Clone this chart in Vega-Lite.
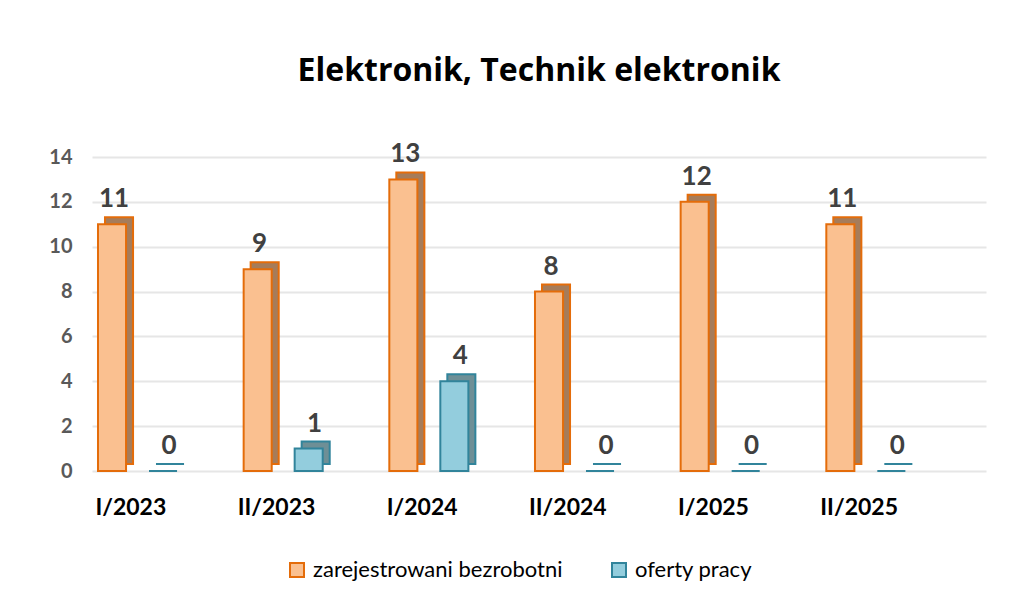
{
  "$schema": "https://vega.github.io/schema/vega-lite/v6.json",
  "autosize": {"type": "none"},
  "width": 894,
  "height": 314,
  "padding": {"left": 92, "top": 157, "right": 32, "bottom": 126},
  "background": "white",
  "config": {
    "font": "Lato",
    "view": {"stroke": null}
  },
  "title": {
    "text": "Elektronik, Technik elektronik",
    "fontSize": 32,
    "fontWeight": "bold",
    "font": "Open Sans",
    "color": "#000000",
    "anchor": "middle",
    "frame": "group",
    "baseline": "alphabetic",
    "offset": 28
  },
  "data": {
    "values": [
      {"okres": "I/2023", "series": "zarejestrowani bezrobotni", "value": 11},
      {"okres": "I/2023", "series": "oferty pracy", "value": 0},
      {"okres": "II/2023", "series": "zarejestrowani bezrobotni", "value": 9},
      {"okres": "II/2023", "series": "oferty pracy", "value": 1},
      {"okres": "I/2024", "series": "zarejestrowani bezrobotni", "value": 13},
      {"okres": "I/2024", "series": "oferty pracy", "value": 4},
      {"okres": "II/2024", "series": "zarejestrowani bezrobotni", "value": 8},
      {"okres": "II/2024", "series": "oferty pracy", "value": 0},
      {"okres": "I/2025", "series": "zarejestrowani bezrobotni", "value": 12},
      {"okres": "I/2025", "series": "oferty pracy", "value": 0},
      {"okres": "II/2025", "series": "zarejestrowani bezrobotni", "value": 11},
      {"okres": "II/2025", "series": "oferty pracy", "value": 0}
    ]
  },
  "encoding": {
    "x": {
      "field": "okres",
      "type": "nominal",
      "sort": ["I/2023", "II/2023", "I/2024", "II/2024", "I/2025", "II/2025"],
      "scale": {"paddingInner": 0, "paddingOuter": 0.0687, "align": 0},
      "axis": {
        "title": null,
        "labelAngle": 0,
        "labelFontSize": 23,
        "labelFontWeight": "bold",
        "labelColor": "#000000",
        "labelFont": "Lato",
        "labelOffset": -34,
        "labelPadding": 25,
        "domain": false,
        "ticks": false
      }
    },
    "y": {
      "field": "value",
      "type": "quantitative",
      "scale": {"domain": [0, 14], "nice": false},
      "axis": {
        "title": null,
        "values": [0, 2, 4, 6, 8, 10, 12, 14],
        "labelFontSize": 20,
        "labelFontWeight": "bold",
        "labelColor": "#595959",
        "labelFont": "Lato",
        "labelPadding": 20,
        "domain": false,
        "ticks": false,
        "gridColor": "#E6E6E6",
        "gridWidth": 2
      }
    }
  },
  "layer": [
    {
      "mark": {"type": "bar", "yOffset": -7, "strokeWidth": 2},
      "encoding": {
        "xOffset": {
          "field": "series",
          "type": "nominal",
          "sort": ["zarejestrowani bezrobotni", "oferty pracy"],
          "scale": {"paddingInner": 0.45, "paddingOuter": 0.653, "align": 0.195}
        },
        "fill": {
          "condition": {"test": "datum.series === 'oferty pracy'", "value": "#6E8F96"},
          "value": "#A67C5A"
        },
        "stroke": {
          "condition": {"test": "datum.series === 'oferty pracy'", "value": "#31849B"},
          "value": "#E46C0A"
        }
      }
    },
    {
      "mark": {"type": "bar", "strokeWidth": 2},
      "encoding": {
        "xOffset": {
          "field": "series",
          "type": "nominal",
          "sort": ["zarejestrowani bezrobotni", "oferty pracy"],
          "scale": {"paddingInner": 0.45, "paddingOuter": 0.653, "align": 0.09}
        },
        "fill": {
          "field": "series",
          "type": "nominal",
          "scale": {
            "domain": ["zarejestrowani bezrobotni", "oferty pracy"],
            "range": ["#FAC090", "#93CDDD"]
          },
          "legend": {
            "title": null,
            "orient": "none",
            "direction": "horizontal",
            "legendX": 194,
            "legendY": 402,
            "symbolType": "square",
            "symbolSize": 196,
            "symbolStrokeWidth": 2,
            "labelFontSize": 22,
            "labelFont": "Lato",
            "labelColor": "#000000",
            "labelOffset": 5,
            "labelLimit": 0,
            "columnPadding": 45
          }
        },
        "stroke": {
          "field": "series",
          "type": "nominal",
          "scale": {
            "domain": ["zarejestrowani bezrobotni", "oferty pracy"],
            "range": ["#E46C0A", "#31849B"]
          },
          "legend": {
            "title": null,
            "orient": "none",
            "direction": "horizontal",
            "legendX": 194,
            "legendY": 402,
            "symbolType": "square",
            "symbolSize": 196,
            "symbolStrokeWidth": 2,
            "labelFontSize": 22,
            "labelFont": "Lato",
            "labelColor": "#000000",
            "labelOffset": 5,
            "labelLimit": 0,
            "columnPadding": 45
          }
        }
      }
    },
    {
      "mark": {"type": "text", "baseline": "alphabetic", "dy": -17, "fontSize": 26, "fontWeight": "bold", "font": "Lato", "color": "#404040"},
      "encoding": {
        "xOffset": {
          "field": "series",
          "type": "nominal",
          "sort": ["zarejestrowani bezrobotni", "oferty pracy"],
          "scale": {"type": "point", "padding": 0.824, "align": 0.2426}
        },
        "text": {"field": "value", "type": "quantitative"}
      }
    }
  ],
  "resolve": {"scale": {"xOffset": "independent"}}
}
